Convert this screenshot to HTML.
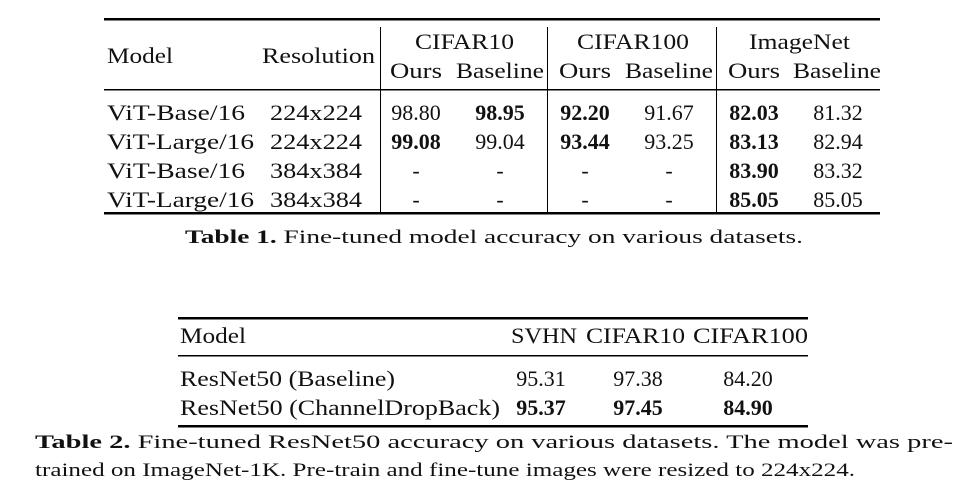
<!DOCTYPE html>
<html><head><meta charset="utf-8"><style>
html,body{margin:0;padding:0;background:#fff;}
svg{display:block;}
text{font-family:"Liberation Serif",serif;font-size:22px;fill:#111;}
.b{font-weight:bold;}
</style></head><body>
<svg width="967" height="494" viewBox="0 0 967 494">
<g>
<rect x="104" y="18" width="776" height="2.5" fill="#000"/>
<rect x="104" y="89" width="776" height="1.5" fill="#000"/>
<rect x="104" y="212" width="776" height="2.5" fill="#000"/>
<rect x="380" y="27" width="1" height="185" fill="#000"/>
<rect x="547" y="27" width="1" height="185" fill="#000"/>
<rect x="716" y="27" width="1" height="185" fill="#000"/>
<g>
<text x="107" y="63" textLength="66" lengthAdjust="spacingAndGlyphs">Model</text>
<text x="262" y="63" textLength="113" lengthAdjust="spacingAndGlyphs">Resolution</text>
<text x="415" y="49" textLength="99" lengthAdjust="spacingAndGlyphs">CIFAR10</text>
<text x="577" y="49" textLength="112" lengthAdjust="spacingAndGlyphs">CIFAR100</text>
<text x="749" y="49" textLength="101" lengthAdjust="spacingAndGlyphs">ImageNet</text>
<text x="390" y="78" textLength="52" lengthAdjust="spacingAndGlyphs">Ours</text>
<text x="456" y="78" textLength="88" lengthAdjust="spacingAndGlyphs">Baseline</text>
<text x="559" y="78" textLength="52" lengthAdjust="spacingAndGlyphs">Ours</text>
<text x="625" y="78" textLength="88" lengthAdjust="spacingAndGlyphs">Baseline</text>
<text x="728" y="78" textLength="52" lengthAdjust="spacingAndGlyphs">Ours</text>
<text x="793" y="78" textLength="88" lengthAdjust="spacingAndGlyphs">Baseline</text>
</g>
<g>
<text x="107" y="120" textLength="138" lengthAdjust="spacingAndGlyphs">ViT-Base/16</text><text x="270" y="120" textLength="92" lengthAdjust="spacingAndGlyphs">224x224</text>
<text x="416" y="120" text-anchor="middle">98.80</text><text class="b" x="500" y="120" text-anchor="middle">98.95</text>
<text class="b" x="585" y="120" text-anchor="middle">92.20</text><text x="669" y="120" text-anchor="middle">91.67</text>
<text class="b" x="754" y="120" text-anchor="middle">82.03</text><text x="838" y="120" text-anchor="middle">81.32</text>

<text x="107" y="149" textLength="147" lengthAdjust="spacingAndGlyphs">ViT-Large/16</text><text x="270" y="149" textLength="92" lengthAdjust="spacingAndGlyphs">224x224</text>
<text class="b" x="416" y="149" text-anchor="middle">99.08</text><text x="500" y="149" text-anchor="middle">99.04</text>
<text class="b" x="585" y="149" text-anchor="middle">93.44</text><text x="669" y="149" text-anchor="middle">93.25</text>
<text class="b" x="754" y="149" text-anchor="middle">83.13</text><text x="838" y="149" text-anchor="middle">82.94</text>

<text x="107" y="178" textLength="138" lengthAdjust="spacingAndGlyphs">ViT-Base/16</text><text x="270" y="178" textLength="92" lengthAdjust="spacingAndGlyphs">384x384</text>
<text x="416" y="178" text-anchor="middle">-</text><text x="500" y="178" text-anchor="middle">-</text>
<text x="585" y="178" text-anchor="middle">-</text><text x="669" y="178" text-anchor="middle">-</text>
<text class="b" x="754" y="178" text-anchor="middle">83.90</text><text x="838" y="178" text-anchor="middle">83.32</text>

<text x="107" y="207" textLength="147" lengthAdjust="spacingAndGlyphs">ViT-Large/16</text><text x="270" y="207" textLength="92" lengthAdjust="spacingAndGlyphs">384x384</text>
<text x="416" y="207" text-anchor="middle">-</text><text x="500" y="207" text-anchor="middle">-</text>
<text x="585" y="207" text-anchor="middle">-</text><text x="669" y="207" text-anchor="middle">-</text>
<text class="b" x="754" y="207" text-anchor="middle">85.05</text><text x="838" y="207" text-anchor="middle">85.05</text>
</g>
<text x="185" y="243" style="font-size:19px" textLength="618" lengthAdjust="spacingAndGlyphs"><tspan class="b">Table 1.</tspan> Fine-tuned model accuracy on various datasets.</text>
</g>
<g>
<rect x="178" y="317" width="630" height="2.5" fill="#000"/>
<rect x="178" y="355" width="630" height="1.5" fill="#000"/>
<rect x="178" y="425" width="630" height="2.5" fill="#000"/>
<text x="180" y="343" textLength="66" lengthAdjust="spacingAndGlyphs">Model</text>
<text x="511" y="343" textLength="66" lengthAdjust="spacingAndGlyphs">SVHN</text>
<text x="586" y="343" textLength="99" lengthAdjust="spacingAndGlyphs">CIFAR10</text>
<text x="693" y="343" textLength="115" lengthAdjust="spacingAndGlyphs">CIFAR100</text>
<text x="180" y="386" textLength="215" lengthAdjust="spacingAndGlyphs">ResNet50 (Baseline)</text>
<text x="541" y="386" text-anchor="middle">95.31</text><text x="638" y="386" text-anchor="middle">97.38</text><text x="748" y="386" text-anchor="middle">84.20</text>
<text x="180" y="415" textLength="320" lengthAdjust="spacingAndGlyphs">ResNet50 (ChannelDropBack)</text>
<text class="b" x="541" y="415" text-anchor="middle">95.37</text><text class="b" x="638" y="415" text-anchor="middle">97.45</text><text class="b" x="748" y="415" text-anchor="middle">84.90</text>
<g>
<text x="35" y="448" style="font-size:19px" textLength="918" lengthAdjust="spacingAndGlyphs"><tspan class="b">Table 2.</tspan> Fine-tuned ResNet50 accuracy on various datasets. The model was pre-</text>
<text x="35" y="476" style="font-size:19px" textLength="820" lengthAdjust="spacingAndGlyphs">trained on ImageNet-1K. Pre-train and fine-tune images were resized to 224x224.</text>
</g>
</g>
</svg>
</body></html>
